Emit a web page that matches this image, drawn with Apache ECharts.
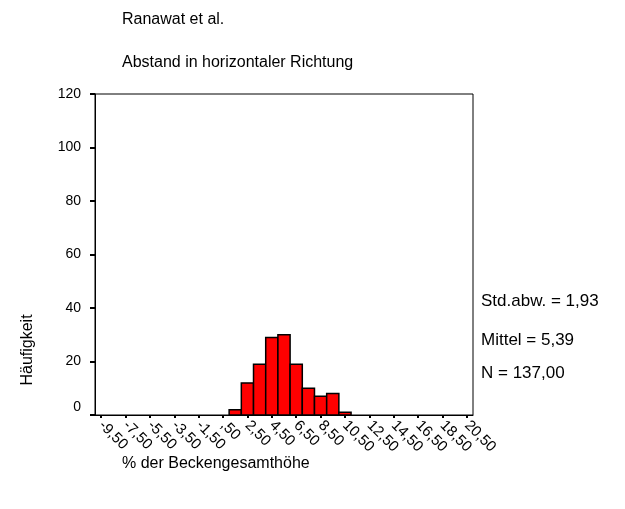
<!DOCTYPE html>
<html>
<head>
<meta charset="utf-8">
<script src="https://cdn.jsdelivr.net/npm/echarts@6/dist/echarts.min.js"></script>
<style>
  html, body { margin: 0; padding: 0; background: #fff; }
  #chart { width: 625px; height: 509px; }
</style>
</head>
<body>
<div id="chart"></div>
<script>
// Histogram data: bin centres (unit-wide bins) and counts
const binCenters = [1.5, 2.5, 3.5, 4.5, 5.5, 6.5, 7.5, 8.5, 9.5, 10.5];
const counts = [2, 12, 19, 29, 30, 19, 10, 7, 8, 1];
const binWidth = 1;

// X axis ticks and their labels (German decimal comma)
const tickValues = [-9.5, -7.5, -5.5, -3.5, -1.5, 0.5, 2.5, 4.5, 6.5, 8.5, 10.5, 12.5, 14.5, 16.5, 18.5, 20.5];
const tickLabels = ['-9,50', '-7,50', '-5,50', '-3,50', '-1,50', ',50', '2,50', '4,50', '6,50', '8,50', '10,50', '12,50', '14,50', '16,50', '18,50', '20,50'];

// Summary statistics shown next to the plot
const statLines = ['Std.abw. = 1,93', 'Mittel = 5,39', 'N = 137,00'];

const FONT = '"Liberation Sans", Arial, sans-serif';
const chart = echarts.init(document.getElementById('chart'), null, { renderer: 'canvas' });

const option = {
  backgroundColor: '#fff',
  animation: false,
  textStyle: { fontFamily: FONT, color: '#000' },
  grid: {
    left: 95, right: 152, top: 94, bottom: 94,
    show: true, borderColor: '#000', borderWidth: 1, backgroundColor: 'transparent'
  },
  xAxis: {
    type: 'value',
    min: -10,
    max: 21,
    axisLine: { show: true, onZero: false, lineStyle: { color: '#000', width: 1 } },
    axisTick: {
      show: true, inside: false, length: 3,
      customValues: tickValues,
      lineStyle: { color: '#000', width: 2 }
    },
    axisLabel: {
      show: true,
      customValues: tickValues,
      rotate: -45,
      margin: 8,
      fontSize: 15,
      fontFamily: FONT,
      color: '#000',
      formatter: function (v) {
        let best = 0;
        for (let i = 1; i < tickValues.length; i++) {
          if (Math.abs(tickValues[i] - v) < Math.abs(tickValues[best] - v)) best = i;
        }
        return tickLabels[best];
      }
    },
    splitLine: { show: false }
  },
  yAxis: {
    type: 'value',
    min: 0,
    max: 120,
    interval: 20,
    axisLine: { show: true, onZero: false, lineStyle: { color: '#000', width: 1 } },
    axisTick: { show: true, inside: false, length: 5, lineStyle: { color: '#000', width: 2 } },
    axisLabel: {
      margin: 14,
      fontSize: 14,
      fontFamily: FONT,
      color: '#000',
      formatter: function (v) { return v === 0 ? '{z|0}' : String(v); },
      rich: { z: { fontSize: 14, fontFamily: FONT, color: '#000', padding: [0, 0, 16, 0] } }
    },
    splitLine: { show: false }
  },
  series: [{
    type: 'custom',
    data: binCenters.map((c, i) => [c, counts[i]]),
    renderItem: function (params, api) {
      const c = api.value(0);
      const v = api.value(1);
      const p0 = api.coord([c - binWidth / 2, v]);
      const p1 = api.coord([c + binWidth / 2, 0]);
      return {
        type: 'rect',
        shape: { x: p0[0], y: p0[1], width: p1[0] - p0[0], height: p1[1] - p0[1] },
        style: { fill: '#ff0000', stroke: '#000', lineWidth: 1.5 }
      };
    },
    encode: { x: 0, y: 1 },
    z: 3
  }],
  graphic: [
    { type: 'text', left: 122, top: 12, style: { text: 'Ranawat et al.', font: '16px ' + FONT, fill: '#000' } },
    { type: 'text', left: 122, top: 55, style: { text: 'Abstand in horizontaler Richtung', font: '16px ' + FONT, fill: '#000' } },
    { type: 'text', x: 28, y: 350, rotation: Math.PI / 2,
      style: { text: 'Häufigkeit', font: '16px ' + FONT, fill: '#000', align: 'center', verticalAlign: 'middle' } },
    { type: 'text', left: 122, top: 456, style: { text: '% der Beckengesamthöhe', font: '16px ' + FONT, fill: '#000' } },
    { type: 'text', x: 481, y: 301, style: { text: statLines[0], font: '17px ' + FONT, fill: '#000', verticalAlign: 'middle' } },
    { type: 'text', x: 481, y: 340, style: { text: statLines[1], font: '17px ' + FONT, fill: '#000', verticalAlign: 'middle' } },
    { type: 'text', x: 481, y: 373, style: { text: statLines[2], font: '17px ' + FONT, fill: '#000', verticalAlign: 'middle' } }
  ]
};

chart.setOption(option);
</script>
</body>
</html>
